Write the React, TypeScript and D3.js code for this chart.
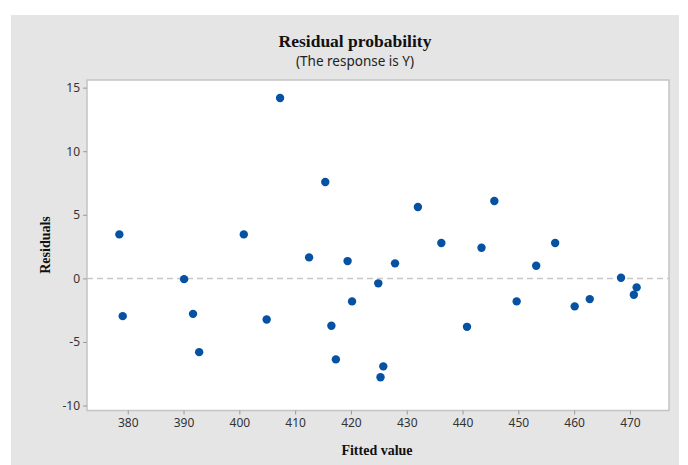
import React, { useEffect, useRef } from "react";
import * as d3 from "d3";

const fittedValues = [
  378.5, 407.3, 415.4, 400.8, 412.5, 419.4, 390.1, 424.9, 379.1, 391.7, 404.9,
  420.2, 416.5, 392.8, 417.3, 425.8, 425.3, 432.0, 445.7, 436.2, 443.4, 456.6,
  427.9, 453.2, 468.4, 471.2, 470.7, 449.7, 460.1, 462.8, 440.8,
];
const residuals = [
  3.46, 14.19, 7.58, 3.46, 1.65, 1.36, -0.06, -0.39, -2.97, -2.79, -3.23,
  -1.81, -3.73, -5.8, -6.37, -6.92, -7.77, 5.61, 6.08, 2.78, 2.41, 2.78,
  1.18, 0.99, 0.05, -0.71, -1.29, -1.81, -2.2, -1.63, -3.81,
];
const xTicks = [380, 390, 400, 410, 420, 430, 440, 450, 460, 470];
const yTicks = [-10, -5, 0, 5, 10, 15];
const titleText = "Residual probability";
const subtitleText = "(The response is Y)";
const xLabel = "Fitted value";
const yLabel = "Residuals";

const W = 688;
const H = 465;
const plot = { left: 87, top: 80, right: 669, bottom: 410.5 };

export default function App() {
  const ref = useRef<SVGSVGElement | null>(null);

  useEffect(() => {
    const svg = d3.select(ref.current);
    svg.selectAll("*").remove();

    const x = d3
      .scaleLinear()
      .domain([372.7, 477.0])
      .range([plot.left, plot.right]);
    const y = d3
      .scaleLinear()
      .domain([-10.39, 15.6])
      .range([plot.bottom, plot.top]);

    svg.append("rect").attr("x", 0).attr("y", 0).attr("width", W).attr("height", H).attr("fill", "#ffffff");
    svg.append("rect").attr("x", 11).attr("y", 15).attr("width", 668).attr("height", H - 15).attr("fill", "#e5e5e5");

    svg
      .append("rect")
      .attr("x", plot.left)
      .attr("y", plot.top)
      .attr("width", plot.right - plot.left)
      .attr("height", plot.bottom - plot.top)
      .attr("fill", "#ffffff")
      .attr("stroke", "#c4c4c4")
      .attr("stroke-width", 1.5);

    // zero reference line
    svg
      .append("line")
      .attr("x1", plot.left)
      .attr("x2", plot.right)
      .attr("y1", y(0))
      .attr("y2", y(0))
      .attr("stroke", "#c8c8c8")
      .attr("stroke-width", 1.5)
      .attr("stroke-dasharray", "6,4");

    const fmt = (d: d3.NumberValue) => String(d);

    // x axis
    const xAxis = svg.append("g").attr("transform", `translate(0,${plot.bottom})`).call(
      d3.axisBottom(x).tickValues(xTicks).tickSize(4).tickPadding(4).tickFormat(fmt)
    );
    xAxis.select(".domain").remove();
    xAxis.selectAll(".tick line").attr("stroke", "#9a9a9a");
    xAxis
      .selectAll(".tick text")
      .attr("fill", "#333333")
      .attr("font-family", "'Noto Sans', 'Open Sans', sans-serif")
      .attr("font-size", 12);

    const yAxis = svg.append("g").attr("transform", `translate(${plot.left},0)`).call(
      d3.axisLeft(y).tickValues(yTicks).tickSize(4).tickPadding(3).tickFormat(fmt)
    );
    yAxis.select(".domain").remove();
    yAxis.selectAll(".tick line").attr("stroke", "#9a9a9a");
    yAxis
      .selectAll(".tick text")
      .attr("fill", "#333333")
      .attr("font-family", "'Noto Sans', 'Open Sans', sans-serif")
      .attr("font-size", 12);

    // points
    svg
      .append("g")
      .selectAll("circle")
      .data(fittedValues.map((fv, i) => [fv, residuals[i]]))
      .join("circle")
      .attr("cx", (d) => x(d[0]))
      .attr("cy", (d) => y(d[1]))
      .attr("r", 4.2)
      .attr("fill", "#0552a3");

    // titles
    svg
      .append("text")
      .attr("x", 355)
      .attr("y", 47)
      .attr("text-anchor", "middle")
      .attr("font-family", "'Liberation Serif', 'DejaVu Serif', serif")
      .attr("font-weight", "bold")
      .attr("font-size", 17.5)
      .attr("fill", "#111")
      .text(titleText);
    svg
      .append("text")
      .attr("x", 355)
      .attr("y", 66)
      .attr("text-anchor", "middle")
      .attr("font-family", "'Noto Sans', 'Open Sans', sans-serif")
      .attr("font-size", 13.5)
      .attr("fill", "#222")
      .text(subtitleText);

    svg
      .append("text")
      .attr("x", 377)
      .attr("y", 455)
      .attr("text-anchor", "middle")
      .attr("font-family", "'Liberation Serif', 'DejaVu Serif', serif")
      .attr("font-weight", "bold")
      .attr("font-size", 14)
      .attr("fill", "#111")
      .text(xLabel);
    svg
      .append("text")
      .attr("transform", `translate(50,245) rotate(-90)`)
      .attr("text-anchor", "middle")
      .attr("font-family", "'Liberation Serif', 'DejaVu Serif', serif")
      .attr("font-weight", "bold")
      .attr("font-size", 14)
      .attr("fill", "#111")
      .text(yLabel);
  }, []);

  return (
    <div style={{ position: "absolute", left: 0, top: 0 }}>
      <svg ref={ref} width={W} height={H} style={{ display: "block" }} />
    </div>
  );
}
